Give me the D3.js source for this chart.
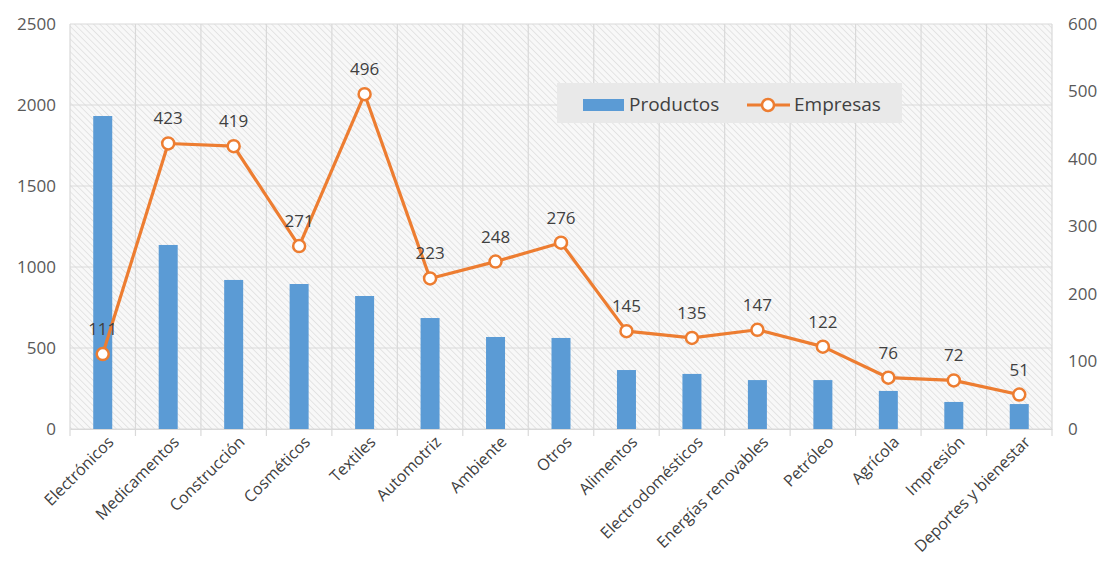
<!DOCTYPE html>
<html><head><meta charset="utf-8">
<script src="https://cdn.jsdelivr.net/npm/d3@7"></script>
<style>body{margin:0;background:#fff}svg{display:block;font-family:"Open Sans",sans-serif}</style>
</head><body>
<svg id="c" width="1104" height="569"></svg>
<script>
const categories = ["Electrónicos","Medicamentos","Construcción","Cosméticos","Textiles","Automotriz","Ambiente","Otros","Alimentos","Electrodomésticos","Energías renovables","Petróleo","Agrícola","Impresión","Deportes y bienestar"];
const productos = [1932,1136,920,895,821,685,568,562,364,340,302,302,235,167,154];
const empresas = [111,423,419,271,496,223,248,276,145,135,147,122,76,72,51];
const leftTicks = [0,500,1000,1500,2000,2500];
const rightTicks = [0,100,200,300,400,500,600];

const svg = d3.select("#c");
const m = {l:70, r:1052, t:24, b:429};
const x = d3.scaleBand().domain(categories).range([m.l,m.r]).paddingInner(0).paddingOuter(0);
const yL = d3.scaleLinear().domain([0,2500]).range([m.b,m.t]);
const yR = d3.scaleLinear().domain([0,600]).range([m.b,m.t]);

const defs = svg.append("defs");
const pat = defs.append("pattern").attr("id","hatch").attr("patternUnits","userSpaceOnUse")
  .attr("width",4.5).attr("height",4.5).attr("patternTransform","rotate(45)");
pat.append("rect").attr("width",4.5).attr("height",4.5).attr("fill","#f8f8f8");
pat.append("line").attr("x1",0).attr("y1",0).attr("x2",4.5).attr("y2",0).attr("stroke","#dedede").attr("stroke-width",1.5);

svg.append("rect").attr("x",m.l).attr("y",m.t).attr("width",m.r-m.l).attr("height",m.b-m.t).attr("fill","url(#hatch)");

// gridlines
svg.append("g").selectAll("line").data(leftTicks).join("line")
  .attr("x1",m.l).attr("x2",m.r).attr("y1",d=>yL(d)).attr("y2",d=>yL(d))
  .attr("stroke","#d9d9d9").attr("stroke-width",1.2);
const bounds = categories.map(c=>x(c)).concat([m.r]);
svg.append("g").selectAll("line").data(bounds).join("line")
  .attr("x1",d=>d).attr("x2",d=>d).attr("y1",m.t).attr("y2",m.b+7)
  .attr("stroke","#d9d9d9").attr("stroke-width",1.2);

const fmt = d3.format("d");
const axL = svg.append("g").attr("transform",`translate(${m.l},0)`)
  .call(d3.axisLeft(yL).tickValues(leftTicks).tickFormat(fmt).tickSize(0).tickPadding(14));
axL.select(".domain").remove();
axL.selectAll("text").attr("font-size",17).attr("fill","#595959").attr("font-family","Open Sans");

const axR = svg.append("g").attr("transform",`translate(${m.r},0)`)
  .call(d3.axisRight(yR).tickValues(rightTicks).tickFormat(fmt).tickSize(0).tickPadding(16));
axR.select(".domain").remove();
axR.selectAll("text").attr("font-size",17).attr("fill","#595959").attr("font-family","Open Sans");

// bars
const bw = 19;
svg.append("g").selectAll("rect").data(categories).join("rect")
  .attr("x",(d)=>x(d)+x.bandwidth()/2-bw/2).attr("width",bw)
  .attr("y",(d,i)=>yL(productos[i])).attr("height",(d,i)=>yL(0)-yL(productos[i]))
  .attr("fill","#5b9bd5");

// category axis
const axB = svg.append("g").attr("transform",`translate(0,${m.b})`)
  .call(d3.axisBottom(x).tickSize(0).tickPadding(0));
axB.select(".domain").attr("stroke","#d9d9d9").attr("stroke-width",1.2);
axB.selectAll("text").attr("font-size",16).attr("fill","#404040").attr("font-family","Open Sans")
  .attr("text-anchor","end").attr("dy",0)
  .attr("transform","translate(12,14) rotate(-45)");

// line
const line = d3.line().x((d,i)=>x(categories[i])+x.bandwidth()/2).y(d=>yR(d));
svg.append("path").datum(empresas).attr("d",line).attr("fill","none")
  .attr("stroke","#ed7d31").attr("stroke-width",3.2).attr("stroke-linejoin","round");
svg.append("g").selectAll("circle").data(empresas).join("circle")
  .attr("cx",(d,i)=>x(categories[i])+x.bandwidth()/2).attr("cy",d=>yR(d)).attr("r",6)
  .attr("fill","#fff").attr("stroke","#ed7d31").attr("stroke-width",2.5);
svg.append("g").selectAll("text").data(empresas).join("text")
  .attr("x",(d,i)=>x(categories[i])+x.bandwidth()/2).attr("y",d=>yR(d)-19)
  .attr("text-anchor","middle").attr("font-size",17).attr("fill","#404040").text(d=>d);

// legend
const lg = svg.append("g");
lg.append("rect").attr("x",557).attr("y",83).attr("width",345).attr("height",40).attr("fill","#e9e9e9");
lg.append("rect").attr("x",583).attr("y",99).attr("width",41).attr("height",12).attr("fill","#5b9bd5");
lg.append("text").attr("x",629).attr("y",111).attr("font-size",19).attr("fill","#404040").text("Productos");
lg.append("line").attr("x1",747).attr("x2",790).attr("y1",105).attr("y2",105).attr("stroke","#ed7d31").attr("stroke-width",3.2);
lg.append("circle").attr("cx",768).attr("cy",105).attr("r",6).attr("fill","#fff").attr("stroke","#ed7d31").attr("stroke-width",2.5);
lg.append("text").attr("x",794).attr("y",111).attr("font-size",19).attr("fill","#404040").text("Empresas");
</script>
</body></html>
